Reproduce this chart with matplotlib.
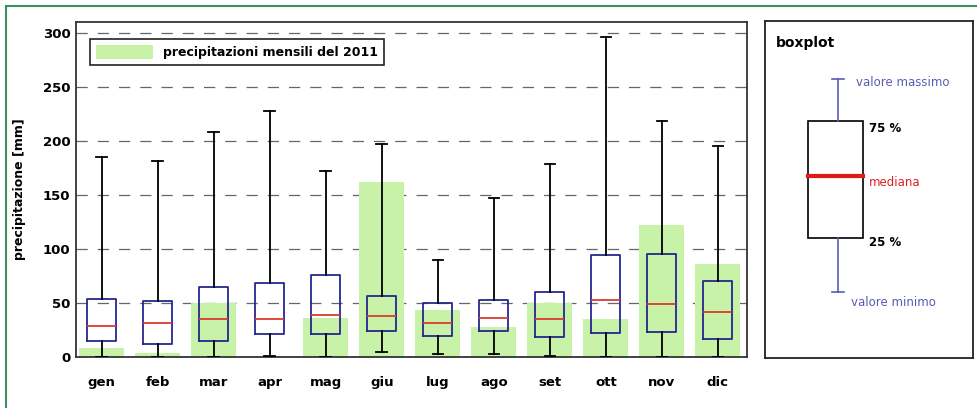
import matplotlib
matplotlib.use("Agg")
import matplotlib.pyplot as plt
from matplotlib.patches import Rectangle
from matplotlib.lines import Line2D

months = ["gen", "feb", "mar", "apr", "mag", "giu", "lug", "ago", "set", "ott", "nov", "dic"]
rain_2011 = [8.6, 4, 50, 0, 35.8, 162, 43.5, 28, 50, 35, 122, 85.7]
wmin = [0, 0, 0, 0.6, 0, 4.3, 3.1, 3.1, 0.6, 0, 0, 0]
q1 = [14.8, 12, 14.8, 21, 21, 24.3, 19.4, 24.3, 18.2, 22.2, 23.4, 17]
med = [28.7, 31.4, 35, 35, 38.9, 37.6, 31.4, 36.4, 35, 53, 49, 41.3]
q3 = [54, 51.5, 64.5, 68.2, 75.6, 56.7, 50, 52.7, 60.4, 94.6, 95, 70.6]
wmax = [185.3, 181.3, 208, 227.3, 172.3, 196.7, 89.7, 146.8, 178.5, 296, 218.3, 195.5]
yticks = [0, 50, 100, 150, 200, 250, 300]

W, H = 978, 408
fig = plt.figure(figsize=(W / 100, H / 100), dpi=100)
fig.patch.set_facecolor("white")

# outer green frame
fig.add_artist(Rectangle((6 / W, -0.05), (W - 6) / W + 0.05, (H - 6) / H + 0.05,
                         transform=fig.transFigure, fill=False, edgecolor="#3f8f5f", lw=1.5))

def fx(px):
    return px / W

def fy(py):
    return 1 - py / H

ax = fig.add_axes([fx(76), fy(357), fx(747) - fx(76), fy(22) - fy(357)])
pos = list(range(1, 13))
ax.bar(pos, rain_2011, width=0.8, color="#c9f2a9", edgecolor="none", zorder=1,
       label="precipitazioni mensili del 2011")

stats = []
for i in range(12):
    stats.append(dict(med=med[i], q1=q1[i], q3=q3[i], whislo=wmin[i], whishi=wmax[i], fliers=[]))
ax.bxp(stats, positions=pos, widths=0.52, showfliers=False, manage_ticks=False,
       boxprops=dict(color="#26268f", lw=1.3),
       medianprops=dict(color="#d83c2c", lw=1.3),
       whiskerprops=dict(color="black", lw=1.3),
       capprops=dict(color="black", lw=1.3),
       capwidths=0.19, zorder=3)

ax.set_xlim(0.54, 12.52)
ax.set_ylim(0, 310)
ax.set_yticks(yticks)
ax.set_yticklabels([str(v) for v in yticks], fontweight="bold", fontsize=9.5)
ax.set_xticks(pos)
ax.set_xticklabels(months, fontweight="bold", fontsize=9.5)
ax.tick_params(axis="both", length=0)
ax.tick_params(axis="x", pad=14)
ax.tick_params(axis="y", pad=4)
for yv in yticks[1:]:
    ax.axhline(yv, color="#666666", lw=0.9, dashes=(9, 8), zorder=0.5)
for s in ax.spines.values():
    s.set_color("#333333")
    s.set_linewidth(1.3)
ax.set_ylabel("precipitazione [mm]", fontweight="bold", fontsize=9, labelpad=12)
leg = ax.legend(loc="upper left", bbox_to_anchor=(0.012, 0.967), fancybox=False,
                framealpha=1, edgecolor="#222222", handlelength=4.6, handleheight=1.3,
                borderpad=0.45, prop=dict(weight="bold", size=9))
leg.get_frame().set_linewidth(1.2)

# key panel
kx = fig.add_axes([fx(765), fy(358), fx(973) - fx(765), fy(21) - fy(358)])
kx.set_xlim(765, 973)
kx.set_ylim(358, 21)
kx.set_xticks([])
kx.set_yticks([])
for s in kx.spines.values():
    s.set_color("#222222")
    s.set_linewidth(1.3)
kx.text(776, 43, "boxplot", fontweight="bold", fontsize=10, va="center", ha="left")
cx = 837.5
wc = "#5a5ac0"
kx.add_line(Line2D([cx, cx], [79, 121], color=wc, lw=1.2))
kx.add_line(Line2D([cx, cx], [238, 292], color=wc, lw=1.2))
kx.add_line(Line2D([cx - 6, cx + 6], [79, 79], color=wc, lw=1.2))
kx.add_line(Line2D([cx - 6, cx + 6], [292, 292], color=wc, lw=1.2))
kx.add_patch(Rectangle((808, 121), 55, 117, fill=False, edgecolor="black", lw=1.2))
kx.add_line(Line2D([808, 863], [176, 176], color="#e01818", lw=3))
kx.text(856, 83, "valore massimo", color="#5a5ab4", fontsize=8.5, va="center", ha="left")
kx.text(869, 128, "75 %", color="black", fontweight="bold", fontsize=8.5, va="center", ha="left")
kx.text(869, 183, "mediana", color="#e02020", fontsize=8.5, va="center", ha="left")
kx.text(869, 242, "25 %", color="black", fontweight="bold", fontsize=8.5, va="center", ha="left")
kx.text(851, 302, "valore minimo", color="#5a5ab4", fontsize=8.5, va="center", ha="left")

fig.savefig("out.png", dpi=100, facecolor="white")
